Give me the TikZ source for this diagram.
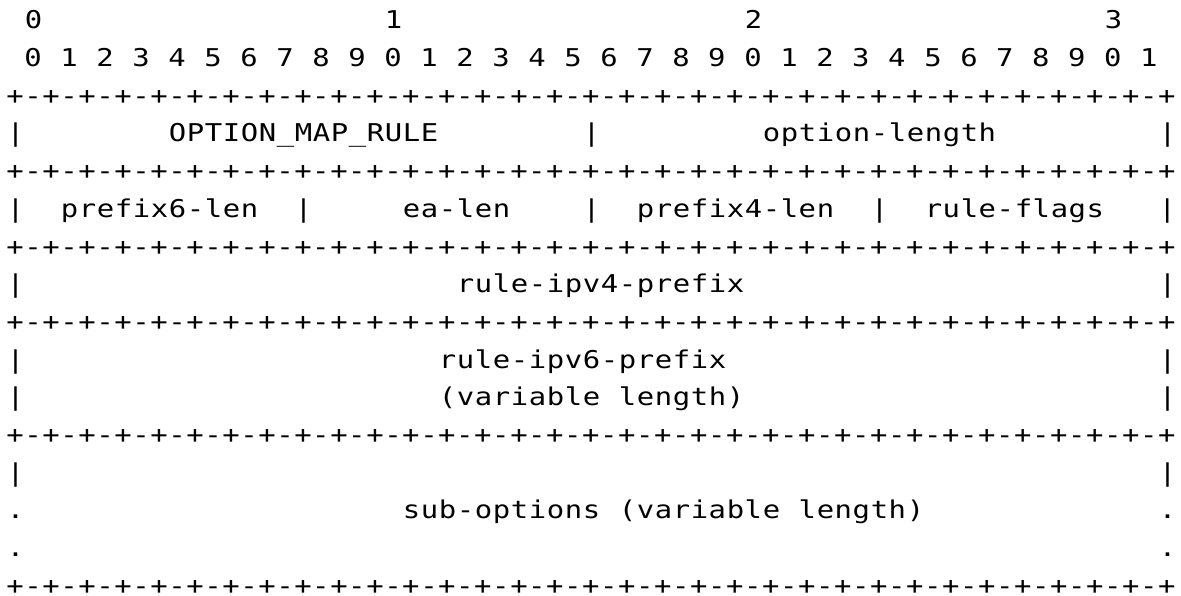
\documentclass[tikz,border=0pt]{standalone}
\usepackage{fontspec}
\newfontfamily\asciifont{DejaVu Sans Mono}[FakeStretch=1.18]
\ExplSyntaxOn
\dim_new:N \l_ascii_cw_dim
\dim_set:Nn \l_ascii_cw_dim {18pt}
\cs_new_protected:Npn \asciicell #1 { \hbox_to_wd:nn {\l_ascii_cw_dim} {\hss #1 \hss} }
\cs_new_protected:Npn \asciitext #1 { \str_map_inline:nn {#1} { \asciicell {##1} } }
\cs_new_protected:Npn \asciiat #1#2
  { \hbox_overlap_right:n { \skip_horizontal:n { \l_ascii_cw_dim * #1 } \asciitext {#2} } }
\cs_new_protected:Npn \asciiborder
  { \prg_replicate:nn {32} { \asciicell{+}\asciicell{-} } \asciicell{+} }
\cs_new_protected:Npn \asciibits
  {
    \asciicell{}
    \int_step_inline:nnn {0} {31}
      {
        \asciicell{\int_mod:nn {##1} {10}}
        \int_compare:nNnT {##1} < {31} { \asciicell{} }
      }
  }
\cs_new_protected:Npn \asciiwidth { \skip_horizontal:n { \l_ascii_cw_dim * 65 } }
\ExplSyntaxOff
\begin{document}
\begin{tikzpicture}[x=1pt,y=1pt,
  row/.style={anchor=base west, inner sep=0pt, outer sep=0pt, text=black,
    font=\asciifont\fontsize{24.5}{30}\selectfont}]
\fill[white] (0,0) rectangle (1181,-596);
\useasboundingbox (0,0) rectangle (1181,-596);
\node[row] (l1)  at (6,-28.8)   {\asciiat{1}{0}\asciiat{21}{1}\asciiat{41}{2}\asciiat{61}{3}\asciiwidth};
\node[row] (l2)  at (6,-66.5)   {\asciibits};
\node[row] (l3)  at (6,-104.2)  {\asciiborder};
\node[row] (l4)  at (6,-141.9)  {\asciiat{0}{|}\asciiat{9}{OPTION_MAP_RULE}\asciiat{32}{|}\asciiat{42}{option-length}\asciiat{64}{|}\asciiwidth};
\node[row] (l5)  at (6,-179.6)  {\asciiborder};
\node[row] (l6)  at (6,-217.3)  {\asciiat{0}{|}\asciiat{3}{prefix6-len}\asciiat{16}{|}\asciiat{22}{ea-len}\asciiat{32}{|}\asciiat{35}{prefix4-len}\asciiat{48}{|}\asciiat{51}{rule-flags}\asciiat{64}{|}\asciiwidth};
\node[row] (l7)  at (6,-255.0)  {\asciiborder};
\node[row] (l8)  at (6,-292.7)  {\asciiat{0}{|}\asciiat{25}{rule-ipv4-prefix}\asciiat{64}{|}\asciiwidth};
\node[row] (l9)  at (6,-330.4)  {\asciiborder};
\node[row] (l10) at (6,-368.1)  {\asciiat{0}{|}\asciiat{24}{rule-ipv6-prefix}\asciiat{64}{|}\asciiwidth};
\node[row] (l11) at (6,-405.8)  {\asciiat{0}{|}\asciiat{24}{(variable length)}\asciiat{64}{|}\asciiwidth};
\node[row] (l12) at (6,-443.5)  {\asciiborder};
\node[row] (l13) at (6,-481.2)  {\asciiat{0}{|}\asciiat{64}{|}\asciiwidth};
\node[row] (l14) at (6,-518.9)  {\asciiat{0}{.}\asciiat{22}{sub-options (variable length)}\asciiat{64}{.}\asciiwidth};
\node[row] (l15) at (6,-556.6)  {\asciiat{0}{.}\asciiat{64}{.}\asciiwidth};
\node[row] (l16) at (6,-594.3)  {\asciiborder};
\end{tikzpicture}
\end{document}
